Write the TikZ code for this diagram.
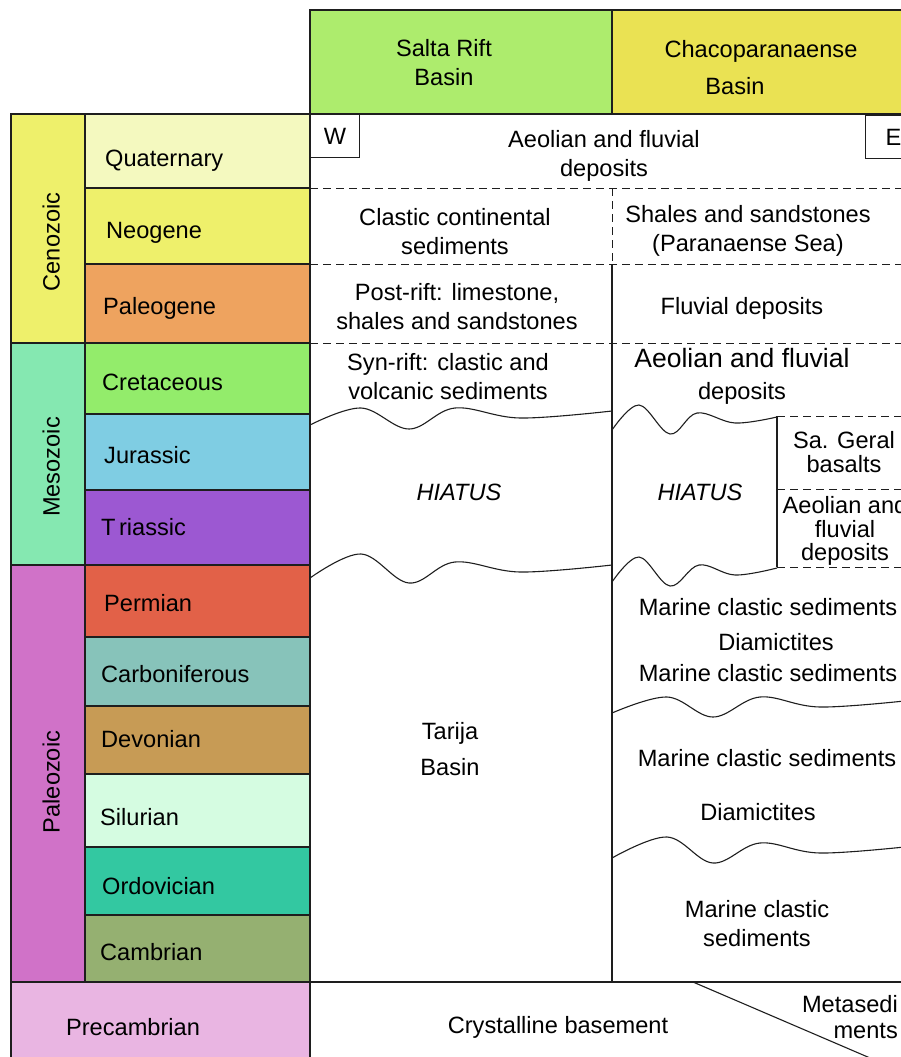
\documentclass[tikz,border=0pt]{standalone}
\usepackage{fontspec}
\setmainfont{Liberation Sans}
\usetikzlibrary{positioning}
\definecolor{cline}{HTML}{1E1E1E}
\definecolor{csalta}{HTML}{ADEC6D}
\definecolor{cchaco}{HTML}{EAE253}
\definecolor{ccen}{HTML}{EEF06B}
\definecolor{cquat}{HTML}{F4F9BF}
\definecolor{cneo}{HTML}{EEF06B}
\definecolor{cpaleog}{HTML}{EEA35F}
\definecolor{cmeso}{HTML}{85E8B1}
\definecolor{ccret}{HTML}{93EC6B}
\definecolor{cjur}{HTML}{7FCDE3}
\definecolor{ctri}{HTML}{9C58D2}
\definecolor{cpaleo}{HTML}{D072C8}
\definecolor{cperm}{HTML}{E26148}
\definecolor{ccarb}{HTML}{87C3BA}
\definecolor{cdev}{HTML}{C79B55}
\definecolor{csil}{HTML}{D5FCE1}
\definecolor{cord}{HTML}{33C8A1}
\definecolor{ccamb}{HTML}{95B071}
\definecolor{cprec}{HTML}{E9B5E2}

\begin{document}
\begin{tikzpicture}[x=1pt, y=-1pt,
  font=\fontsize{23.6}{29}\selectfont,
  cell/.style={draw=cline, line width=1.3pt},
  rule/.style={draw=cline, line width=1.1pt},
  contact/.style={draw=cline, line width=1pt, dash pattern=on 8pt off 5pt},
  wave/.style={draw=cline, line width=1.1pt},
  tag/.style={inner sep=0pt, text height=17pt, text depth=0pt},
  per/.style={tag, anchor=west},
  era/.style={tag, rotate=90},
  unit/.style={inner sep=0pt, align=center, text depth=0pt},
  tight/.style={unit, font=\fontsize{23.6}{23.5}\selectfont},
  dirbox/.style={draw=cline, line width=1.1pt, fill=white, anchor=north west,
                 inner sep=0pt, minimum height=43pt}
]
\useasboundingbox (0,0) rectangle (901,1057);
\clip (0,0) rectangle (901,1057);

% basin headers
\filldraw[cell, fill=csalta] (310,10) rectangle (612,114);
\filldraw[cell, fill=cchaco] (612,10) rectangle (940,114);
\node[unit] (salta) at (444,62) {Salta Rift\\Basin};
\node[tag] (chaco) at (761,49.5) {Chacoparanaense};
\node[tag] (chacob) at (735,85.5) {Basin};

% eras
\filldraw[cell, fill=ccen] (11,114) rectangle (85,343);
\filldraw[cell, fill=cmeso] (11,343) rectangle (85,565);
\filldraw[cell, fill=cpaleo] (11,565) rectangle (85,982);
\filldraw[cell, fill=cprec] (11,982) rectangle (310,1070);
\node[era] (cen) at (51,242) {Cenozoic};
\node[era] (meso) at (51,467) {Mesozoic};
\node[era] (paleo) at (51,782) {Paleozoic};
\node[tag] (prec) at (133,1027) {Precambrian};

% periods
\filldraw[cell, fill=cquat] (85,114) rectangle (310,188);
\filldraw[cell, fill=cneo] (85,188) rectangle (310,264);
\filldraw[cell, fill=cpaleog] (85,264) rectangle (310,343);
\filldraw[cell, fill=ccret] (85,343) rectangle (310,414);
\filldraw[cell, fill=cjur] (85,414) rectangle (310,490);
\filldraw[cell, fill=ctri] (85,490) rectangle (310,565);
\filldraw[cell, fill=cperm] (85,565) rectangle (310,637);
\filldraw[cell, fill=ccarb] (85,637) rectangle (310,706);
\filldraw[cell, fill=cdev] (85,706) rectangle (310,774);
\filldraw[cell, fill=csil] (85,774) rectangle (310,847);
\filldraw[cell, fill=cord] (85,847) rectangle (310,915);
\filldraw[cell, fill=ccamb] (85,915) rectangle (310,982);
\node[per] (quat) at (105,157.5) {Quaternary};
\node[per] (neo) at (106,230) {Neogene};
\node[per] (paleog) at (103,306) {Paleogene};
\node[per] (cret) at (102,382) {Cretaceous};
\node[per] (jur) at (104,455) {Jurassic};
\node[per] (tri) at (101,527) {T\kern3.5pt riassic};
\node[per] (perm) at (104,603) {Permian};
\node[per] (carb) at (101,674) {Carboniferous};
\node[per] (dev) at (101,739) {Devonian};
\node[per] (sil) at (100,817) {Silurian};
\node[per] (ord) at (102,886) {Ordovician};
\node[per] (camb) at (100,952) {Cambrian};

% columns and contacts
\draw[cell] (310,114) rectangle (940,1070);
\draw[cell] (310,982) -- (940,982);
\draw[contact] (612,188) -- (612,264);
\draw[rule] (612,264) -- (612,982);
\draw[contact] (310,188) -- (940,188);
\draw[contact] (310,264) -- (940,264);
\draw[contact] (310,343) -- (940,343);
\draw[rule] (777,416) -- (777,567);
\draw[contact] (777,416) -- (940,416);
\draw[contact] (777,489) -- (940,489);
\draw[contact] (777,567) -- (940,567);
\draw[rule] (693,982) -- (940,1088);

% unconformities
\draw[wave] plot[smooth, tension=0.6] coordinates {(310,425) (361,408) (409,429) (455,408) (520,418) (612,411)};
\draw[wave] plot[smooth, tension=0.6] coordinates {(310,578) (361,554) (409,583) (455,562) (520,572) (612,565)};
\draw[wave] plot[smooth, tension=0.6] coordinates {(612,430) (639,405) (670,434) (697,413) (735,423) (777,417)};
\draw[wave] plot[smooth, tension=0.6] coordinates {(612,582) (639,557) (670,586) (699,565) (735,575) (777,568)};
\draw[wave] plot[smooth, tension=0.6] coordinates {(612,713) (667,697) (713,717) (760,697) (820,707) (914,700)};
\draw[wave] plot[smooth, tension=0.6] coordinates {(612,858) (667,837) (713,863) (760,843) (820,853) (914,846)};

% W and E
\node[dirbox, minimum width=49pt] (west) at (310,114) {W};
\node[dirbox, minimum width=56pt] (east) at (865,115) {E};

% Salta Rift column
\node[unit] (quatdep) at (604,153) {Aeolian and fluvial\\deposits};
\node[unit] (clastic) at (455,231.5) {Clastic continental\\sediments};
\node[unit] (postrift) at (457,306.5) {Post-rift: limestone,\\shales and sandstones};
\node[unit] (synrift) at (448,376) {Syn-rift: clastic and\\volcanic sediments};
\node[tag, font=\fontsize{23.6}{29}\selectfont\itshape] (hiatw) at (459,492) {HIATUS};
\node[unit] (tarija) at (450,749) {Tarija\\[7pt]Basin};
\node[tag] (crystal) at (558,1025) {Crystalline basement};

% Chacoparanaense column
\node[unit] (shales) at (748,228.5) {Shales and sandstones\\(Paranaense Sea)};
\node[tag] (fluvial) at (742,306) {Fluvial deposits};
\node[unit] (aeolcret) at (742,373.5) {{\fontsize{26.5}{29}\selectfont Aeolian and fluvial}\\[3pt]deposits};
\node[tag, font=\fontsize{23.6}{29}\selectfont\itshape] (hiate) at (700,492) {HIATUS};
\node[tight] (geral) at (844,452) {Sa. Geral\\basalts};
\node[tight] (aeoljur) at (845,528.5) {Aeolian and\\fluvial\\deposits};
\node[tag] (marine1) at (768,607) {Marine clastic sediments};
\node[tag] (diam1) at (776,642) {Diamictites};
\node[tag] (marine2) at (768,673) {Marine clastic sediments};
\node[tag] (marine3) at (767,758) {Marine clastic sediments};
\node[tag] (diam2) at (758,812) {Diamictites};
\node[unit] (marine4) at (757,923) {Marine clastic\\sediments};
\node[unit, align=right, anchor=east] (metased) at (898,1017) {Metasedi\\[-3pt]ments};
\end{tikzpicture}
\end{document}
